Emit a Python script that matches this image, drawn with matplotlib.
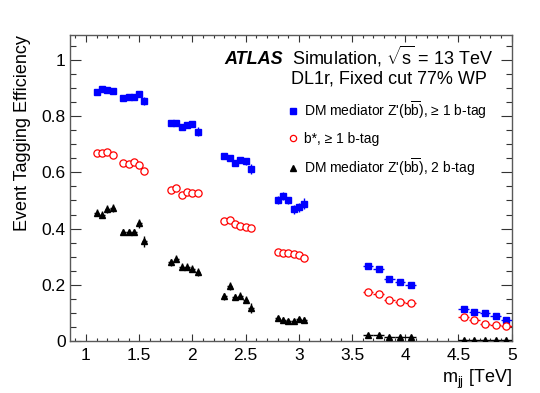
import numpy as np
import matplotlib
matplotlib.use("Agg")
import matplotlib.pyplot as plt
from matplotlib.lines import Line2D
from matplotlib.ticker import MultipleLocator, FormatStrFormatter

plt.rcParams['font.family'] = ['Liberation Sans', 'DejaVu Sans']
plt.rcParams['mathtext.fontset'] = 'custom'
plt.rcParams['mathtext.rm'] = 'Liberation Sans'
plt.rcParams['mathtext.it'] = 'Liberation Sans:italic'
plt.rcParams['mathtext.bf'] = 'Liberation Sans:bold'

# resonance mass points [TeV] and bin half-widths
mass = [1.10, 1.15, 1.20, 1.25,
        1.35, 1.40, 1.45, 1.50, 1.55,
        1.80, 1.85, 1.90, 1.95, 2.00, 2.05,
        2.30, 2.35, 2.40, 2.45, 2.50, 2.55,
        2.80, 2.85, 2.90, 2.95, 3.00, 3.05,
        3.65, 3.75, 3.85, 3.95, 4.05,
        4.55, 4.65, 4.75, 4.85, 4.95]
mass_err = [0.025] * 27 + [0.05] * 10

# DM mediator Z'(bb), >= 1 b-tag
eff_zp_1b = [0.888, 0.898, 0.895, 0.889,
             0.864, 0.869, 0.870, 0.881, 0.855,
             0.775, 0.775, 0.763, 0.768, 0.774, 0.745,
             0.658, 0.650, 0.635, 0.646, 0.640, 0.611,
             0.501, 0.515, 0.500, 0.468, 0.476, 0.489,
             0.265, 0.256, 0.220, 0.210, 0.200,
             0.114, 0.102, 0.099, 0.087, 0.073]
err_zp_1b = [0.006, 0.006, 0.006, 0.006,
             0.006, 0.006, 0.006, 0.007, 0.015,
             0.007, 0.007, 0.008, 0.008, 0.008, 0.016,
             0.010, 0.010, 0.010, 0.010, 0.012, 0.018,
             0.014, 0.014, 0.014, 0.016, 0.016, 0.020,
             0.005, 0.005, 0.005, 0.005, 0.005,
             0.005, 0.005, 0.005, 0.005, 0.005]

# b*, >= 1 b-tag
eff_bstar = [0.669, 0.669, 0.672, 0.663,
             0.633, 0.630, 0.636, 0.626, 0.606,
             0.536, 0.544, 0.520, 0.530, 0.525, 0.525,
             0.426, 0.430, 0.417, 0.408, 0.405, 0.402,
             0.315, 0.313, 0.312, 0.308, 0.304, 0.295,
             0.173, 0.168, 0.146, 0.137, 0.133,
             0.085, 0.074, 0.061, 0.055, 0.054]
err_bstar = [0.004] * 37

# DM mediator Z'(bb), 2 b-tag
eff_zp_2b = [0.456, 0.450, 0.470, 0.474,
             0.387, 0.387, 0.389, 0.418, 0.355,
             0.279, 0.293, 0.264, 0.264, 0.257, 0.246,
             0.158, 0.196, 0.156, 0.161, 0.146, 0.117,
             0.081, 0.075, 0.069, 0.071, 0.077, 0.075,
             0.021, 0.019, 0.013, 0.013, 0.013,
             0.003, 0.003, 0.002, 0.002, 0.002]
err_zp_2b = [0.012, 0.012, 0.015, 0.015,
             0.010, 0.010, 0.010, 0.015, 0.020,
             0.012, 0.012, 0.012, 0.012, 0.012, 0.014,
             0.012, 0.015, 0.012, 0.012, 0.012, 0.018,
             0.008, 0.008, 0.008, 0.008, 0.008, 0.009,
             0.004, 0.004, 0.004, 0.004, 0.004,
             0.002, 0.002, 0.002, 0.002, 0.002]

labels = [r"DM mediator Z'(b$\overline{\mathrm{b}}$), ≥ 1 b-tag",
          "b*, ≥ 1 b-tag",
          r"DM mediator Z'(b$\overline{\mathrm{b}}$), 2 b-tag"]

fig = plt.figure(figsize=(5.4, 3.93), dpi=100)
ax = fig.add_axes([0.1296, 0.133, 0.818, 0.778])

ax.errorbar(mass, eff_zp_1b, yerr=err_zp_1b, xerr=mass_err, fmt='s', color='#0000ff',
            ms=4.5, elinewidth=1, capsize=0, zorder=3)
ax.errorbar(mass, eff_bstar, yerr=err_bstar, xerr=mass_err, fmt='o', color='#ff0000',
            mfc='white', mec='#ff0000', mew=0.9, ms=5.2, elinewidth=1, capsize=0, zorder=3)
ax.errorbar(mass, eff_zp_2b, yerr=err_zp_2b, xerr=mass_err, fmt='^', color='black',
            ms=4, elinewidth=1, capsize=0, zorder=3)

ax.set_xlim(0.85, 5.0)
ax.set_ylim(0, 1.09)

ax.xaxis.set_major_locator(MultipleLocator(0.5))
ax.xaxis.set_minor_locator(MultipleLocator(0.1))
ax.yaxis.set_major_locator(MultipleLocator(0.2))
ax.yaxis.set_minor_locator(MultipleLocator(0.05))
ax.xaxis.set_major_formatter(FormatStrFormatter('%g'))
ax.yaxis.set_major_formatter(FormatStrFormatter('%g'))

ax.tick_params(axis='both', which='both', direction='in', top=True, right=True,
               labelsize=12.5, color='0.2', width=0.8)
ax.tick_params(axis='x', which='major', length=5, pad=5)
ax.tick_params(axis='x', which='minor', length=2.5)
ax.tick_params(axis='y', which='major', length=8, pad=3)
ax.tick_params(axis='y', which='minor', length=4)
for sp in ax.spines.values():
    sp.set_color('0.35')
    sp.set_linewidth(1.0)

ax.set_ylabel("Event Tagging Efficiency", fontsize=13, loc='top', labelpad=8)
ax.set_xlabel(r"m$_{\mathrm{jj}}$ [TeV]", fontsize=13, loc='right', labelpad=4)

ax.text(0.350, 0.905, "ATLAS", transform=ax.transAxes, fontsize=13,
        fontweight='bold', fontstyle='italic', ha='left', va='baseline')
ax.text(0.958, 0.905, r"Simulation, $\sqrt{\mathrm{s}}$ = 13 TeV", transform=ax.transAxes,
        fontsize=13, ha='right', va='baseline')
ax.text(0.944, 0.842, "DL1r, Fixed cut 77% WP", transform=ax.transAxes,
        fontsize=13, ha='right', va='baseline')

handles = [Line2D([], [], ls='none', marker='s', color='#0000ff', ms=4),
           Line2D([], [], ls='none', marker='o', mfc='white', mec='#ff0000', mew=0.9, ms=4.5),
           Line2D([], [], ls='none', marker='^', color='black', ms=4)]
ax.legend(handles, labels, loc='upper left', bbox_to_anchor=(0.4924, 0.79),
          frameon=False, fontsize=10, handlelength=0.8, handletextpad=0.4,
          labelspacing=0.8, borderpad=0, borderaxespad=0)

fig.savefig("out.png", dpi=100)
